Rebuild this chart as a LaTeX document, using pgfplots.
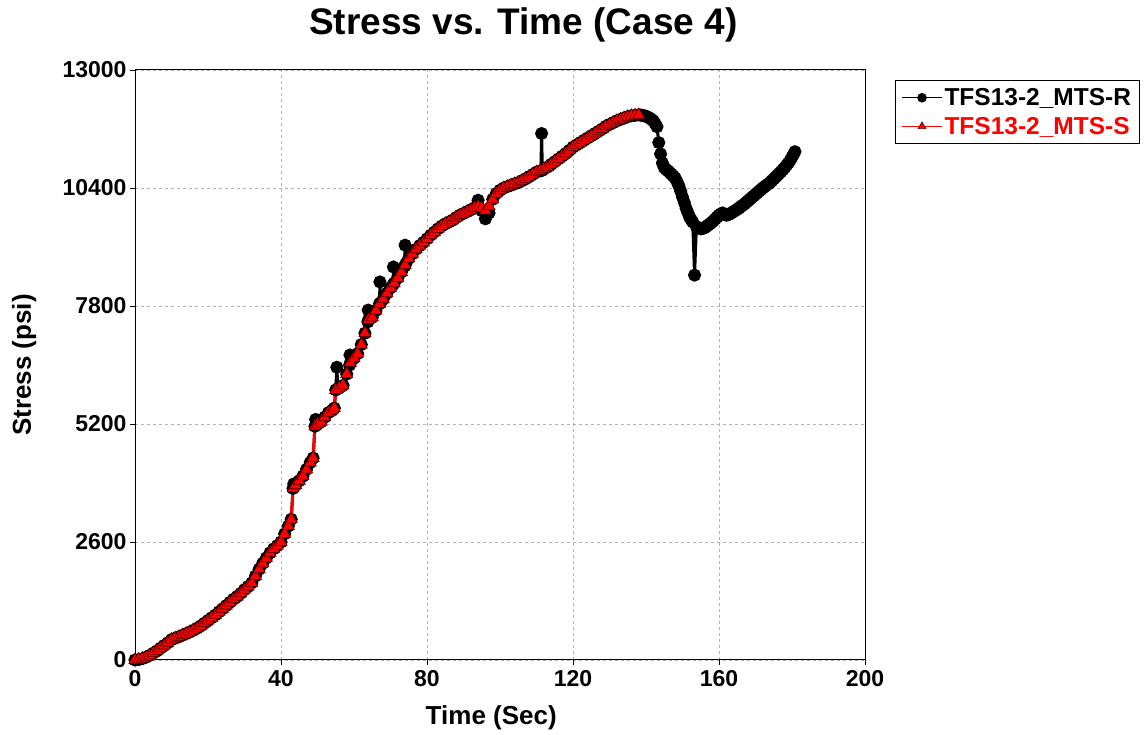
\documentclass[border=0pt]{standalone}
\usepackage{fontspec}
\setmainfont{Liberation Sans}
\usepackage{pgfplots}
\usepackage{pgfplotstable}
\pgfplotsset{compat=1.18}
\pgfplotstableread{
t S
0 0
1 10
2 30
3 60
4 100
5 150
6 200
7 260
8 320
9 380
10 450
11 480
12 510
13 545
14 580
15 615
16 655
17 700
18 750
19 810
20 870
21 930
22 990
23 1060
24 1130
25 1200
26 1270
27 1340
28 1400
29 1470
30 1550
31 1620
32 1700
33 1850
34 2000
35 2130
36 2250
37 2360
38 2450
39 2520
40 2600
41 2780
42 2950
42.8 3100
43.3 3780
44 3850
45 3950
46 4050
47 4200
48 4350
48.8 4450
49.3 5150
50 5200
51 5250
52 5350
53 5450
54 5500
54.6 5550
55 5950
56 6000
57 6050
58 6300
59 6550
60 6650
61 6750
62 6950
63 7200
64 7500
65 7550
66 7700
67 7850
68 7950
69 8080
70 8200
71 8300
72 8420
73 8550
74 8700
75 8850
76 8950
77 9050
78 9130
79 9200
80 9280
81 9360
82 9430
83 9500
84 9560
85 9610
86 9650
87 9690
88 9750
89 9800
90 9840
91 9880
92 9920
93 9960
94 9990
95 9960
96 9900
97 10000
98 10150
99 10280
100 10350
101 10400
102 10430
103 10460
104 10490
105 10520
106 10560
107 10600
108 10650
109 10700
110 10750
111 10780
112 10820
113 10860
114 10920
115 10980
116 11040
117 11100
118 11160
119 11230
120 11300
121 11350
122 11400
123 11450
124 11500
125 11550
126 11600
127 11650
128 11700
129 11760
130 11800
131 11840
132 11880
133 11910
134 11940
135 11970
136 11990
137 12000
138 12010
}\sdata
\pgfplotstableread{
t S
0 0
1 10
2 30
3 60
4 100
5 150
6 200
7 260
8 320
9 380
10 450
11 480
12 510
13 545
14 580
15 615
16 655
17 700
18 750
19 810
20 870
21 930
22 990
23 1060
24 1130
25 1200
26 1270
27 1340
28 1400
29 1470
30 1550
31 1620
32 1700
33 1850
34 2000
35 2130
36 2250
37 2360
38 2450
39 2520
40 2600
41 2780
42 2950
42.8 3100
43.3 3780
43.5 3880
44 3850
45 3950
46 4050
47 4200
48 4350
48.8 4450
49.3 5150
49.5 5300
50 5200
51 5250
52 5350
53 5450
54 5500
54.6 5550
55 5950
55.3 6450
55.6 5980
56 6000
57 6050
58 6300
58.8 6500
58.9 6720
59.1 6560
60 6650
61 6750
62 6950
63 7200
63.8 7450
63.9 7710
64.1 7520
65 7550
66 7700
67 7850
67.1 8330
67.3 7870
68 7950
69 8080
70 8200
70.7 8270
70.8 8660
71 8300
72 8420
73 8550
73.9 8680
74 9140
74.2 8730
75 8850
76 8950
77 9050
78 9130
79 9200
80 9280
81 9360
82 9430
83 9500
84 9560
85 9610
86 9650
87 9690
88 9750
89 9800
90 9840
91 9880
92 9920
93 9960
93.9 9985
94 10130
94.2 9980
95 9900
96 9720
97 9850
98 10150
99 10280
100 10350
101 10400
102 10430
103 10460
104 10490
105 10520
106 10560
107 10600
108 10650
109 10700
110 10750
111.2 10780
111.4 11600
111.6 10790
112 10820
113 10860
114 10920
115 10980
116 11040
117 11100
118 11160
119 11230
120 11300
121 11350
122 11400
123 11450
124 11500
125 11550
126 11600
127 11650
128 11700
129 11760
130 11800
131 11840
132 11880
133 11910
134 11940
135 11970
136 11990
137 12000
138 12010
138.5 12008
139 12000
139.5 11990
140 11980
140.5 11960
141 11940
141.5 11910
142 11880
142.5 11820
143 11750
143.5 11400
144 11150
144.5 10950
145 10850
145.5 10810
146 10780
146.5 10740
147 10700
147.5 10660
148 10620
148.5 10540
149 10450
149.5 10330
150 10200
150.5 10080
151 9950
151.5 9850
152 9750
152.4 9700
152.8 9650
153.3 8480
153.8 9550
154.3 9520
155 9500
155.5 9510
156 9520
156.5 9550
157 9580
157.5 9610
158 9640
158.5 9680
159 9720
159.5 9760
160 9800
160.5 9830
161 9850
161.5 9820
162 9800
162.5 9810
163 9830
163.5 9855
164 9880
164.5 9905
165 9930
165.5 9960
166 9990
166.5 10020
167 10050
167.5 10085
168 10120
168.5 10155
169 10190
169.5 10225
170 10260
170.5 10295
171 10330
171.5 10365
172 10400
172.5 10430
173 10460
173.5 10490
174 10520
174.5 10560
175 10600
175.5 10640
176 10680
176.5 10720
177 10760
177.5 10805
178 10850
178.5 10900
179 10950
179.5 11010
180 11080
180.4 11140
180.8 11200
}\rdata
\begin{document}
\begin{tikzpicture}
\begin{axis}[
  scale only axis, width=730pt, height=590pt,
  xmin=0, xmax=200, ymin=0, ymax=13000,
  xtick={0,40,...,200}, ytick={0,2600,...,13000},
  tick pos=left,
  tick align=outside, major tick length=5pt,
  tick style={black, line width=0.8pt},
  grid=major, grid style={dashed, black!30, line width=0.9pt},
  axis line style={black, line width=1pt},
  ticklabel style={font=\fontsize{23}{27}\selectfont\bfseries},
  xticklabel style={yshift=-2pt},
  label style={font=\fontsize{26}{30}\selectfont\bfseries},
  /pgf/number format/assume math mode=true,
  /pgf/number format/set thousands separator={},
  scaled ticks=false,
  xlabel={Time (Sec)}, ylabel={Stress (psi)},
  xlabel style={at={(axis description cs:0.488,-0.1085)}, anchor=base},
  ylabel style={at={(axis description cs:-0.152,0.5)}, anchor=center},
  title={Stress vs. Time (Case 4)},
  title style={font=\fontsize{37}{42}\selectfont\bfseries, at={(axis description cs:0.532,1.0508)}, anchor=base},
  legend style={at={(axis description cs:1.0411,0.9831)}, anchor=north west, draw=black, line width=1pt,
    font=\fontsize{24.5}{28}\selectfont\bfseries, inner xsep=6pt, inner ysep=6pt, row sep=6pt},
  legend cell align=left,
  legend image code/.code={\draw[#1, line width=1pt, mark=none] (0pt,0pt) -- (40pt,0pt);
     \draw[#1, line width=0.5pt, mark size=4.5pt] plot[only marks] coordinates {(20pt,0pt)};},
  clip=false,
]
\addplot[black, line width=3pt, mark=*, mark size=5pt, mark options={solid, fill=black}] table[x=t, y=S] {\rdata};
\addlegendentry{TFS13-2\_MTS-R}
\addplot[red, line width=3pt, mark=triangle*, mark size=7pt, mark options={solid, fill=red, draw=black!70!red, line width=0.6pt}] table[x=t, y=S] {\sdata};
\addlegendentry{\textcolor{red}{TFS13-2\_MTS-S}}
\path (axis description cs:-0.18493,-0.12712) rectangle (axis description cs:1.38493,1.11864);
\end{axis}
\end{tikzpicture}
\end{document}
